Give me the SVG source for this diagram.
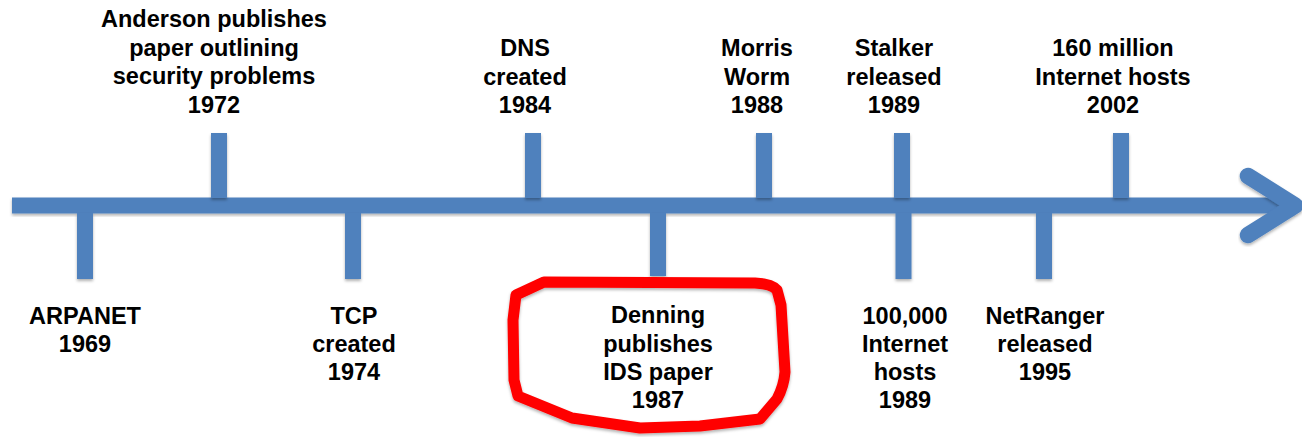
<svg xmlns="http://www.w3.org/2000/svg" width="1302" height="437" viewBox="0 0 1302 437">
  <defs>
    <filter id="soft" x="-20%" y="-20%" width="140%" height="140%">
      <feDropShadow dx="0" dy="2" stdDeviation="1.5" flood-color="#000" flood-opacity="0.3"/>
    </filter>
  </defs>
  <style>
    .bar { fill: #4F81BD; filter: url(#soft); }
    .lbl { font-family: "Liberation Sans", Arial, sans-serif; font-weight: bold; font-size: 23.5px; fill: #000; text-anchor: middle; }
    .ring { fill: none; stroke: #FF0000; stroke-width: 11; stroke-linejoin: round; filter: url(#soft); }
  </style>
  <rect width="1302" height="437" fill="#fff"/>

  <!-- time axis with arrow -->
  <g id="connectors">
    <rect class="bar" x="12" y="197.5" width="1283" height="16"/>
    <polyline points="1248,176 1295,205.5 1248,235" fill="none" stroke="#4F81BD" stroke-width="16.5" stroke-linecap="round" stroke-linejoin="round" filter="url(#soft)"/>
  </g>

  <g id="arpanet">
    <rect class="bar" x="77" y="213" width="16" height="66"/>
    <text class="lbl" x="85"><tspan x="85" y="324">ARPANET</tspan><tspan x="85" y="352">1969</tspan></text>
  </g>

  <g id="anderson">
    <rect class="bar" x="211" y="133" width="16" height="65"/>
    <text class="lbl"><tspan x="214" y="27">Anderson publishes</tspan><tspan x="214" y="55.5">paper outlining</tspan><tspan x="214" y="84">security problems</tspan><tspan x="214" y="112.5">1972</tspan></text>
  </g>

  <g id="tcp">
    <rect class="bar" x="345" y="213" width="16" height="66"/>
    <text class="lbl"><tspan x="354" y="324">TCP</tspan><tspan x="354" y="352">created</tspan><tspan x="354" y="380">1974</tspan></text>
  </g>

  <g id="dns">
    <rect class="bar" x="525" y="133" width="16" height="65"/>
    <text class="lbl"><tspan x="525" y="56">DNS</tspan><tspan x="525" y="84.5">created</tspan><tspan x="525" y="113">1984</tspan></text>
  </g>

  <g id="denning">
    <rect class="bar" x="650" y="213" width="16" height="63"/>
    <path class="ring" d="M516,295 L544,282 L755,283 Q772,284 777,290 L781,305 L785,372 Q784,386 777,399 L760,419 L700,426 L640,428 L572,418 L518,396 L514,380 L513,320 Z"/>
    <text class="lbl"><tspan x="658" y="323">Denning</tspan><tspan x="658" y="352">publishes</tspan><tspan x="658" y="380">IDS paper</tspan><tspan x="658" y="408">1987</tspan></text>
  </g>

  <g id="morris">
    <rect class="bar" x="756" y="133" width="16" height="65"/>
    <text class="lbl"><tspan x="757" y="56">Morris</tspan><tspan x="757" y="84.5">Worm</tspan><tspan x="757" y="113">1988</tspan></text>
  </g>

  <g id="stalker">
    <rect class="bar" x="894" y="133" width="16" height="65"/>
    <text class="lbl"><tspan x="894" y="56">Stalker</tspan><tspan x="894" y="84.5">released</tspan><tspan x="894" y="113">1989</tspan></text>
  </g>

  <g id="hosts1989">
    <rect class="bar" x="895.5" y="213" width="16" height="66"/>
    <text class="lbl"><tspan x="905" y="324">100,000</tspan><tspan x="905" y="352">Internet</tspan><tspan x="905" y="380">hosts</tspan><tspan x="905" y="408">1989</tspan></text>
  </g>

  <g id="netranger">
    <rect class="bar" x="1036" y="213" width="16" height="66"/>
    <text class="lbl"><tspan x="1045" y="324">NetRanger</tspan><tspan x="1045" y="352">released</tspan><tspan x="1045" y="380">1995</tspan></text>
  </g>

  <g id="hosts2002">
    <rect class="bar" x="1113" y="133" width="16" height="65"/>
    <text class="lbl"><tspan x="1113" y="56">160 million</tspan><tspan x="1113" y="84.5">Internet hosts</tspan><tspan x="1113" y="113">2002</tspan></text>
  </g>
</svg>
